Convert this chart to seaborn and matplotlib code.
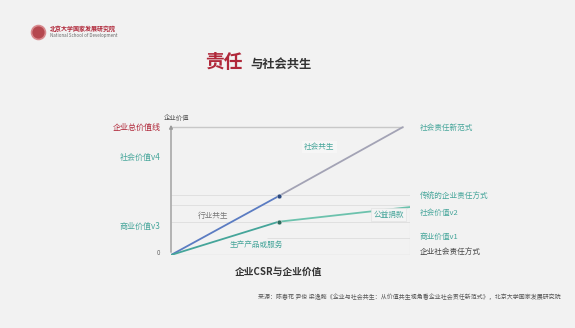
'''责任与社会共生 - 企业CSR与企业价值'''

import numpy as np
import pandas as pd
import matplotlib
matplotlib.use('Agg')
import matplotlib.pyplot as plt
import seaborn as sns

# dados =======================================================================
# linha azul: 社会共生 (origem -> ponto -> fim)
novo_x = [0, 4.5, 9.7]
novo_y = [0, 4.6, 10.0]
# linha verde: 生产产品或服务 + 公益捐款
trad_x = [0, 4.5, 10.0]
trad_y = [0, 2.6, 3.75]
# linhas guia horizontais
total_valor = 10.0
guias = [4.7, 3.9, 2.6]
guia_baixo = 1.35

rotulos_esq = ['企业总价值线', '社会价值v4', '商业价值v3', '0']
rotulos_esq_y = [10.0, 7.6, 2.2, 0.15]
rotulos_dir = ['社会责任新范式', '传统的企业责任方式', '社会价值v2', '商业价值v1', '企业社会责任方式']
rotulos_dir_y = [9.95, 4.55, 3.3, 1.4, 0.25]

fonte = '来源：陈春花 尹俊 梁逸懿《企业与社会共生：从价值共生视角看企业社会责任新范式》，北京大学国家发展研究院'

# estilo ======================================================================
FUNDO = '#f2f2f2'
VERMELHO = '#b0283a'
TEAL = '#45a59a'
AZUL = '#5b7cc2'
CINZA = '#a3a3b5'

sns.set_theme(style='white', rc={'figure.facecolor': FUNDO, 'axes.facecolor': FUNDO})
plt.rcParams['font.family'] = ['Noto Sans CJK SC', 'DejaVu Sans']

fig = plt.figure(figsize=(5.75, 3.28), dpi=100)
ax = fig.add_axes([171 / 575, 1 - 255 / 328, (410 - 171) / 575, (255 - 122) / 328])
ax.set_xlim(0, 10)
ax.set_ylim(0, 10.4)
for s in ax.spines.values():
    s.set_visible(False)
ax.set_xticks([])
ax.set_yticks([])

# linhas guia
ax.hlines(total_valor, 0, novo_x[-1], color='#c8c8c8', lw=1.0)
ax.hlines(guias, 0, 10, color='#e0e0e0', lw=0.7)
ax.hlines(guia_baixo, 4.0, 10, color='#e0e0e0', lw=0.7)
ax.hlines(0, 0, 10, color='#d0d0d0', lw=0.9)
ax.vlines(10, 0, trad_y[-1] + 0.2, color='#dcdcdc', lw=0.8)
# eixo y com seta
ax.annotate('', xy=(0, 10.4), xytext=(0, 0),
            arrowprops=dict(arrowstyle='-|>', color='#9a9a9a', lw=1.0, mutation_scale=5),
            annotation_clip=False)

# linhas principais
sns.lineplot(x=novo_x[:2], y=novo_y[:2], ax=ax, color=AZUL, lw=1.3)
sns.lineplot(x=novo_x[1:], y=novo_y[1:], ax=ax, color=CINZA, lw=1.3)
sns.lineplot(x=trad_x[:2], y=trad_y[:2], ax=ax, color=TEAL, lw=1.3)
sns.lineplot(x=trad_x[1:], y=trad_y[1:], ax=ax, color='#6cc2ad', lw=1.3)
sns.scatterplot(x=[novo_x[1]], y=[novo_y[1]], ax=ax, color='#2c4a7e', s=12, zorder=5)
sns.scatterplot(x=[trad_x[1]], y=[trad_y[1]], ax=ax, color='#2e6b5e', s=12, zorder=5)

# rotulos ======================================================================
cores_esq = [VERMELHO, TEAL, TEAL, '#666666']
tam_esq = [5.8, 5.8, 5.8, 4.5]
for t, y, c, f in zip(rotulos_esq, rotulos_esq_y, cores_esq, tam_esq):
    ax.text(-0.45, y, t, color=c, fontsize=f, ha='right', va='center', clip_on=False)
cores_dir = [TEAL, TEAL, TEAL, TEAL, '#444444']
for t, y, c in zip(rotulos_dir, rotulos_dir_y, cores_dir):
    ax.text(10.4, y, t, color=c, fontsize=5.5, ha='left', va='center', clip_on=False)

ax.text(0.25, 10.75, '企业价值', color='#555555', fontsize=4.6, ha='center', va='center', clip_on=False)
ax.text(6.2, 8.45, '社会共生', color=TEAL, fontsize=5.5, ha='center', va='center',
        bbox=dict(boxstyle='square,pad=0.3', fc='#f6f6f6', ec='none'))
ax.text(1.75, 3.05, '行业共生', color='#777777', fontsize=5.5, ha='center', va='center')
ax.text(3.55, 0.8, '生产产品或服务', color=TEAL, fontsize=5.5, ha='center', va='center')
ax.text(9.1, 3.15, '公益捐款', color=TEAL, fontsize=5.5, ha='center', va='center',
        bbox=dict(boxstyle='square,pad=0.3', fc='#f4f4f4', ec='#e2e2e2', lw=0.5))

# titulo, subtitulo e fonte
fig.text(205 / 575, 1 - 63 / 328, '责任', color=VERMELHO, fontsize=13.5, fontweight='bold',
         ha='left', va='center')
fig.text(250 / 575, 1 - 64 / 328, '与社会共生', color='#333333', fontsize=8.8, fontweight='bold',
         ha='left', va='center')
fig.text(278 / 575, 1 - 272 / 328, '企业CSR与企业价值', color='#333333', fontsize=7.0,
         fontweight='bold', ha='center', va='center')
fig.text(258 / 575, 1 - 297 / 328, fonte, color='#555555', fontsize=4.3, ha='left', va='center')

# logo
fig.add_artist(plt.Line2D([38 / 575], [1 - 32 / 328], transform=fig.transFigure, marker='o',
                          markersize=10, markerfacecolor='#b5484f', markeredgecolor='#d88a8e',
                          markeredgewidth=1.2, linestyle='none'))
fig.text(50 / 575, 1 - 29 / 328, '北京大学国家发展研究院', color=VERMELHO, fontsize=4.3,
         fontweight='bold', ha='left', va='center')
fig.text(50 / 575, 1 - 36 / 328, 'National School of Development', color='#666666', fontsize=3.2,
         ha='left', va='center')

fig.savefig('out.png', dpi=100, facecolor=FUNDO)
